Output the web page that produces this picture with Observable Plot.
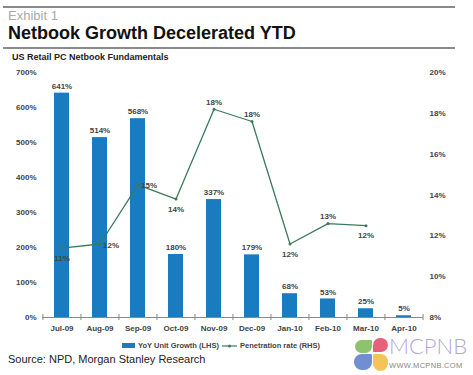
<!DOCTYPE html>
<html><head><meta charset="utf-8">
<script src="https://cdn.jsdelivr.net/npm/d3@7"></script>
<script src="https://cdn.jsdelivr.net/npm/@observablehq/plot@0.6"></script>
<style>
html,body{margin:0;padding:0;background:#fff;}
#wrap{position:relative;width:473px;height:375px;overflow:hidden;background:#fff;font-family:"Liberation Sans",Arial,sans-serif;}
.abs{position:absolute;white-space:nowrap;}
.rule{position:absolute;left:3px;width:452px;height:2px;background:#8a8a8a;}
#chart{position:absolute;left:0;top:62px;}
.leg{font-size:7.5px;font-weight:bold;color:#444;}
</style></head>
<body><div id="wrap">
<div class="rule" style="top:6px"></div>
<div class="abs" style="left:8px;top:8px;font-size:13px;color:#aaa;">Exhibit 1</div>
<div class="abs" style="left:8px;top:23px;font-size:18px;font-weight:bold;color:#111;">Netbook Growth Decelerated YTD</div>
<div class="rule" style="top:47px"></div>
<div class="abs" style="left:12px;top:52px;font-size:9px;font-weight:bold;color:#222;">US Retail PC Netbook Fundamentals</div>
<div id="chart"></div>
<div class="abs leg" style="left:122px;top:341px;display:flex;align-items:center;">
  <span style="display:inline-block;width:13px;height:5px;background:#1a7cc0;margin-right:3px"></span>YoY Unit Growth (LHS)
  <svg width="15" height="8" style="margin:0 3px 0 3px"><line x1="0" y1="4" x2="15" y2="4" stroke="#3d7a5c" stroke-width="1.2"/><circle cx="7.5" cy="4" r="1.5" fill="#3d7a5c"/></svg>Penetration rate (RHS)
</div>
<div class="abs" style="left:8px;top:353px;font-size:11px;color:#222;">Source: NPD, Morgan Stanley Research</div>
<div class="abs" style="left:355px;top:340px;width:17px;height:13px;background:#8dc26f;border-radius:8px 1px 8px 8px;"></div>
<div class="abs" style="left:373px;top:338px;width:15px;height:14px;background:#e8607a;border-radius:8px 8px 8px 1px;"></div>
<div class="abs" style="left:354px;top:354px;width:18px;height:16px;background:#6f8fd0;border-radius:8px 1px 8px 8px;"></div>
<div class="abs" style="left:373px;top:354px;width:15px;height:17px;background:#f6c35a;border-radius:1px 8px 8px 8px;"></div>
<div class="abs" style="left:389px;top:335px;font-size:22px;line-height:22px;font-family:Lato,'Open Sans',sans-serif;font-weight:300;color:#b3a7d6;">MCPNB</div>
<div class="abs" style="left:389px;top:361px;font-size:7.5px;color:#888;letter-spacing:0.3px;">WWW.MCPNB.COM</div>
</div>
<script>
const months = ["Jul-09","Aug-09","Sep-09","Oct-09","Nov-09","Dec-09","Jan-10","Feb-10","Mar-10","Apr-10"];
const growth = [641,514,568,180,337,179,68,53,25,5];
const penetration = [11.4,11.6,14.5,13.8,18.2,17.6,11.6,12.6,12.5,null];
const penLabels = ["11%","12%","15%","14%","18%","18%","12%","13%","12%",null];
const leftTicks = [0,100,200,300,400,500,600,700];
const rightTicks = [8,10,12,14,16,18,20];
const labelPlace = ["below","right","right","below","above","above","below","above","below",null];

const barColor = "#1a7cc0", lineColor = "#3d7a5c";
const rMin = 8, rMax = 20, lMax = 700;
const toLeft = p => (p - rMin) / (rMax - rMin) * lMax;

const data = months.map((m, i) => ({month: m, growth: growth[i], pen: penetration[i] == null ? null : toLeft(penetration[i]), penLabel: penLabels[i], place: labelPlace[i]}));
const lineData = data.filter(d => d.pen != null);

const W = 473, H = 280, ML = 42, MR = 50;
const step = (W - ML - MR) / months.length;
const txt = {fontSize: 8, fontWeight: "bold", fill: "#444"};

const chart = Plot.plot({
  width: W, height: H,
  marginLeft: ML, marginRight: MR, marginTop: 10, marginBottom: 25,
  style: {fontFamily: "Liberation Sans, Arial, sans-serif", fontSize: "8px", fontWeight: "bold", color: "#444", background: "#fff"},
  x: {domain: months, paddingInner: 0.6, paddingOuter: 0.3},
  y: {domain: [0, lMax]},
  marks: [
    Plot.barY(data, {x: "month", y: "growth", fill: barColor}),
    Plot.ruleY([0], {stroke: "#888", strokeWidth: 1}),
    Plot.ruleX(months, {x: d => d, y1: 0, y2: 0, dx: -step / 2, insetTop: -3, insetBottom: -3, stroke: "#888"}),
    Plot.ruleX([months[months.length - 1]], {x: d => d, y1: 0, y2: 0, dx: step / 2, insetTop: -3, insetBottom: -3, stroke: "#888"}),
    Plot.text(data, {x: "month", y: "growth", text: d => d.growth + "%", dy: -7, ...txt}),
    Plot.line(lineData, {x: "month", y: "pen", stroke: lineColor, strokeWidth: 1.3}),
    Plot.dot(lineData, {x: "month", y: "pen", r: 1.5, fill: lineColor}),
    Plot.text(lineData.filter(d => d.place === "below"), {x: "month", y: "pen", text: "penLabel", dy: 10, ...txt}),
    Plot.text(lineData.filter(d => d.place === "above"), {x: "month", y: "pen", text: "penLabel", dy: -7, ...txt}),
    Plot.text(lineData.filter(d => d.place === "right"), {x: "month", y: "pen", text: "penLabel", dx: 11, dy: 1, ...txt}),
    Plot.axisY(leftTicks, {anchor: "left", tickSize: 0, tickPadding: 6, tickFormat: d => d + "%", label: null, ...txt}),
    Plot.axisY(rightTicks.map(toLeft), {anchor: "right", tickSize: 0, tickPadding: 6, tickFormat: d => Math.round(d / lMax * (rMax - rMin) + rMin) + "%", label: null, ...txt}),
    Plot.axisX({tickSize: 0, tickPadding: 8, label: null, ...txt})
  ]
});
document.getElementById("chart").appendChild(chart);
</script>
</body></html>
